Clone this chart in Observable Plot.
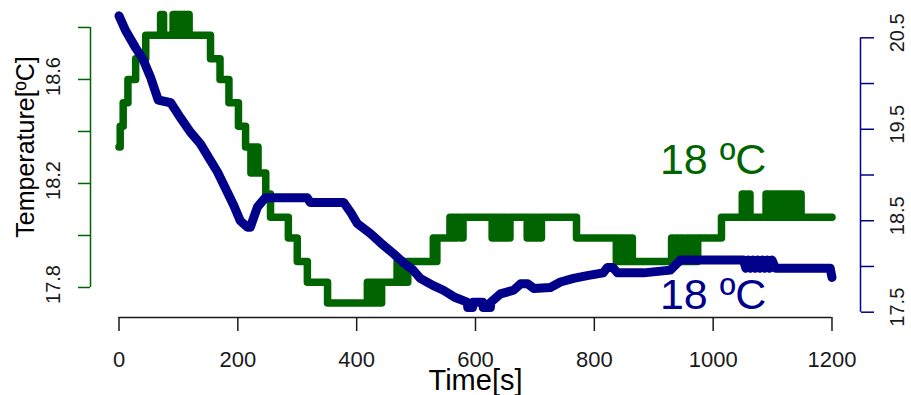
<!DOCTYPE html>
<html><head><meta charset="utf-8">
<script src="https://cdn.jsdelivr.net/npm/d3@7"></script>
<script src="https://cdn.jsdelivr.net/npm/@observablehq/plot@0.6"></script>
<style>
html,body{margin:0;padding:0;background:#fff;}
#chart svg{display:block;}
</style></head><body><div id="chart"></div>
<script>
// Green series (left axis), change points
const greenTime = [0,2,7,15,28,45,70,75,91,94,96,99,101,104,106,109,111,114,116,118,
  154,170,185,201,213,222,225,228,231,234,247,255,285,300,317,351,
  418,421,424,427,430,433,436,439,442,468,471,474,477,480,483,486,
  529,532,535,557,560,563,566,569,575,579,628,631,634,637,640,643,647,650,654,658,
  687,690,694,697,700,704,707,711,770,837,840,843,847,850,854,857,861,864,
  930,933,937,941,945,950,955,960,966,970,974,1014,1049,1053,1057,1062,
  1089,1093,1096,1100,1103,1107,1110,1114,1117,1121,1124,1128,1131,1135,1138,1142,1145,1148,1200];
const greenTemp = [18.34,18.42,18.51,18.60,18.68,18.77,18.85,18.77,18.85,18.77,18.85,18.77,18.85,18.77,18.85,18.77,18.85,18.77,18.85,18.77,
  18.68,18.60,18.51,18.42,18.34,18.24,18.34,18.24,18.34,18.24,18.16,18.07,17.99,17.90,17.82,17.74,
  17.82,17.74,17.82,17.74,17.82,17.74,17.82,17.74,17.82,17.90,17.82,17.90,17.82,17.90,17.82,17.90,
  17.99,17.90,17.99,18.07,17.99,18.07,17.99,18.07,17.99,18.07,17.99,18.07,17.99,18.07,17.99,18.07,17.99,18.07,17.99,18.07,
  17.99,18.07,17.99,18.07,17.99,18.07,17.99,18.07,17.99,17.90,17.99,17.90,17.99,17.90,17.99,17.90,17.99,17.90,
  17.99,17.90,17.99,17.90,17.99,17.90,17.99,17.90,17.99,17.90,17.99,18.07,18.16,18.07,18.16,18.07,
  18.16,18.07,18.16,18.07,18.16,18.07,18.16,18.07,18.16,18.07,18.16,18.07,18.16,18.07,18.16,18.07,18.16,18.07,18.07];

// Blue series (right axis)
const blueTime = [0,11,28,40,53,66,87,103,120,137,151,166,193,204,216,221,233,246,317,322,378,
  390,401,423,440,462,479,495,507,529,546,566,586,587,595,596,612,613,625,626,
  642,664,676,688,698,726,743,765,788,815,822,831,839,883,928,945,1051,
  1055,1059,1063,1067,1071,1075,1079,1083,1087,1091,1095,1099,1105,1197,1200];
const blueTemp = [20.74,20.58,20.39,20.27,20.07,19.82,19.79,19.63,19.47,19.34,19.19,19.03,18.67,18.50,18.43,18.43,18.65,18.75,18.75,18.70,18.70,
  18.59,18.47,18.36,18.26,18.14,18.04,17.96,17.87,17.79,17.74,17.66,17.61,17.55,17.55,17.61,17.61,17.55,17.55,17.61,
  17.70,17.74,17.81,17.81,17.76,17.77,17.83,17.87,17.90,17.93,17.99,17.99,17.93,17.93,17.96,18.07,18.07,
  17.98,18.07,17.98,18.07,17.98,18.07,17.98,18.07,17.98,18.07,17.98,18.07,17.98,17.98,17.88];

const xTicks = [0,200,400,600,800,1000,1200];
const leftTicks = [17.8,18.0,18.2,18.4,18.6,18.8];
const leftLabels = [17.8,18.2,18.6];
const rightTicks = [17.5,18.0,18.5,19.0,19.5,20.0,20.5];
const rightLabels = [17.5,18.5,19.5,20.5];
const noteText = ["18 ºC","18 ºC"];
const noteTime = [1000,1000];
const noteTemp = [18.29,17.69]; // first on left axis, second on right axis

const xDomain = [-48,1248];
const leftDomain = [17.6846,18.896];
const rightDomain = [17.442,20.886];
const toLeft = b => leftDomain[0] + (b - rightDomain[0]) / (rightDomain[1] - rightDomain[0]) * (leftDomain[1] - leftDomain[0]);

const GREEN = "#006400", BLUE = "#00008B", INK = "#1a1a1a";
const green = greenTime.map((t,i) => ({t, v: greenTemp[i]}));
const blue = blueTime.map((t,i) => ({t, v: blueTemp[i]}));

const chart = Plot.plot({
  width: 911, height: 395,
  marginLeft: 90, marginRight: 51, marginTop: 2, marginBottom: 78,
  style: {fontFamily: "'Liberation Sans', Arial, sans-serif", background: "#fff", overflow: "visible"},
  x: {domain: xDomain},
  y: {domain: leftDomain},
  marks: [
    Plot.line(green, {x: "t", y: "v", curve: "step-after", stroke: GREEN, strokeWidth: 7.5, strokeLinejoin: "round", strokeLinecap: "round"}),
    Plot.line(blue, {x: "t", y: d => toLeft(d.v), stroke: BLUE, strokeWidth: 9, strokeLinejoin: "round", strokeLinecap: "round"}),
    // bottom axis
    Plot.ruleY([leftDomain[0]], {x1: xTicks[0], x2: xTicks[xTicks.length-1], stroke: INK, strokeWidth: 1.5}),
    Plot.axisX({ticks: xTicks, tickFormat: d => String(d), tickSize: 14, tickPadding: 20, fontSize: 22, stroke: INK, strokeWidth: 1.5, fill: INK, label: null}),
    Plot.text(["Time[s]"], {text: d => d, frameAnchor: "bottom", lineAnchor: "middle", textAnchor: "middle", dy: 63, fontSize: 29, fill: "#000"}),
    // left axis
    Plot.ruleX([xDomain[0]], {y1: leftTicks[0], y2: leftTicks[leftTicks.length-1], stroke: GREEN, strokeWidth: 1.5}),
    Plot.axisY({anchor: "left", ticks: leftTicks, tickSize: 12, tickFormat: () => "", stroke: GREEN, strokeWidth: 1.5, label: null}),
    Plot.text(leftLabels, {y: d => d, text: d => d.toFixed(1), frameAnchor: "left", textAnchor: "middle", lineAnchor: "middle", dx: -37, dy: -3, rotate: -90, fontSize: 20, fill: INK}),
    Plot.text(["Temperature[ºC]"], {text: d => d, frameAnchor: "left", textAnchor: "middle", lineAnchor: "middle", dx: -65, dy: -13, rotate: -90, fontSize: 25, fill: "#000"}),
    // right axis
    Plot.ruleX([xDomain[1]], {y1: toLeft(rightTicks[0]), y2: toLeft(rightTicks[rightTicks.length-1]), stroke: BLUE, strokeWidth: 1.5}),
    Plot.axisY({anchor: "right", ticks: rightTicks.map(toLeft), tickSize: 13, tickFormat: () => "", stroke: BLUE, strokeWidth: 1.5, label: null}),
    Plot.text(rightLabels, {y: d => toLeft(d), text: d => d.toFixed(1), frameAnchor: "right", textAnchor: "middle", lineAnchor: "middle", dx: 37, dy: -5, rotate: -90, fontSize: 20, fill: INK}),
    // annotations
    Plot.text([0], {x: () => noteTime[0], y: () => noteTemp[0], text: () => noteText[0], fontSize: 43, fill: GREEN}),
    Plot.text([1], {x: () => noteTime[1], y: () => toLeft(noteTemp[1]), text: () => noteText[1], fontSize: 43, fill: BLUE})
  ]
});
document.getElementById("chart").appendChild(chart);
</script></body></html>
